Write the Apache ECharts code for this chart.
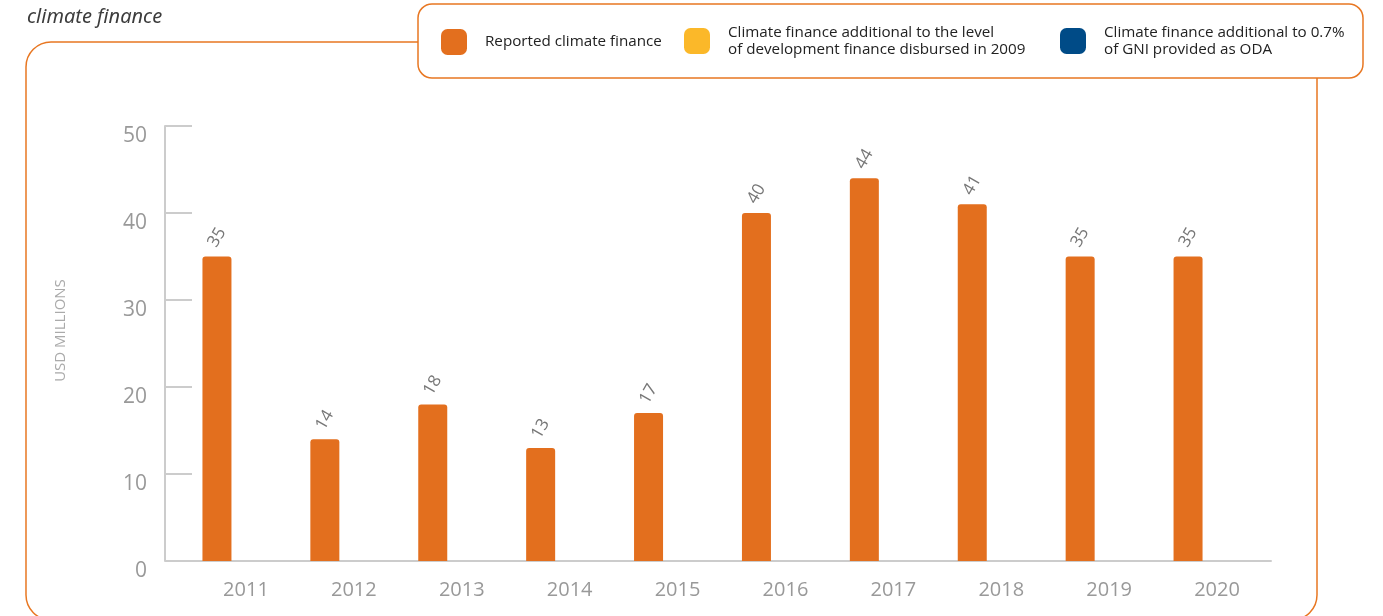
<!DOCTYPE html>
<html>
<head>
<meta charset="utf-8">
<script src="https://cdn.jsdelivr.net/npm/echarts@6/dist/echarts.min.js"></script>
<style>
html,body{margin:0;padding:0;background:#fff;}
#c{width:1383px;height:616px;}
</style>
</head>
<body>
<div id="c"></div>
<script>
var years = ['2011','2012','2013','2014','2015','2016','2017','2018','2019','2020'];
var reported = [35,14,18,13,17,40,44,41,35,35];
var additional2009 = [null,null,null,null,null,null,null,null,null,null];
var additionalGNI = [null,null,null,null,null,null,null,null,null,null];
var seriesNames = ['Reported climate finance',
  'Climate finance additional to the level\nof development finance disbursed in 2009',
  'Climate finance additional to 0.7%\nof GNI provided as ODA'];
var yTicks = [0,10,20,30,40,50];

var ORANGE = '#E36F1E', YELLOW = '#FBB829', BLUE = '#004B87', LINE = '#E87722';
var chart = echarts.init(document.getElementById('c'));
var legendFont = '"Open Sans",sans-serif';
function mkLegend(name, left, top){
  return {
    data:[name], left:left, top:top, orient:'horizontal',
    itemWidth:26, itemHeight:26, icon:'roundRect', selectedMode:false, padding:0,
    textStyle:{fontFamily:legendFont, fontSize:15.2, color:'#222', lineHeight:17, padding:[0,0,0,13]}
  };
}
chart.setOption({
  animation:false,
  textStyle:{fontFamily:'"Open Sans",sans-serif'},
  graphic:[
    {type:'rect', z:0, shape:{x:26,y:42,width:1291,height:578,r:25}, style:{fill:'none',stroke:LINE,lineWidth:1.5}},
    {type:'rect', z:1, shape:{x:418,y:4,width:945,height:74,r:14}, style:{fill:'#fff',stroke:LINE,lineWidth:1.5}},
    {type:'text', left:27, top:7, style:{text:'climate finance', font:'italic 20px "Noto Sans", sans-serif', fill:'#3c3c3c'}}
  ],
  legend:[mkLegend(seriesNames[0],441,29), mkLegend(seriesNames[1],684,24), mkLegend(seriesNames[2],1060,24)],
  grid:{left:192, right:112, top:126, bottom:55, containLabel:false},
  xAxis:{
    type:'category', data:years,
    axisLine:{lineStyle:{color:'#ccc',width:2}},
    axisTick:{inside:true,length:10,lineStyle:{color:'#ccc',width:2}},
    axisLabel:{color:'#999',fontSize:20,margin:19}
  },
  yAxis:{
    type:'value', min:yTicks[0], max:yTicks[yTicks.length-1], interval:10, offset:27,
    name:'USD MILLIONS', nameLocation:'middle', nameRotate:90, nameGap:97,
    nameTextStyle:{color:'#aaa',fontSize:15,padding:[0,0,0,26]},
    axisLine:{show:true,lineStyle:{color:'#ccc',width:2}},
    axisTick:{show:true,inside:true,length:27,lineStyle:{color:'#ccc',width:2}},
    splitLine:{show:false},
    axisLabel:{color:'#999',fontSize:21,margin:18,verticalAlign:'top',lineHeight:20}
  },
  series:[
    {name:seriesNames[0], type:'bar', data:reported, barWidth:29, barGap:'0%',
     itemStyle:{color:ORANGE, borderRadius:[3,3,0,0]},
     label:{show:true, position:'top', distance:19, rotate:60, align:'center', verticalAlign:'middle',
            color:'#777', fontSize:17}},
    {name:seriesNames[1], type:'bar', data:additional2009, barWidth:29, barGap:'0%', itemStyle:{color:YELLOW}},
    {name:seriesNames[2], type:'bar', data:additionalGNI, barWidth:29, barGap:'0%', itemStyle:{color:BLUE}}
  ]
});
</script>
</body>
</html>
